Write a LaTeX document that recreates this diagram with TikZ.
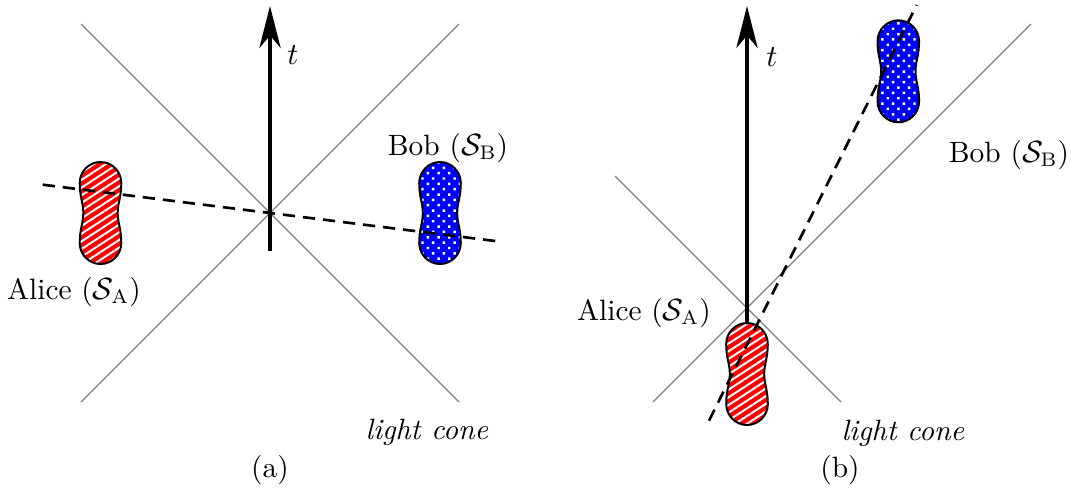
\documentclass[tikz,border=0pt]{standalone}
\usepackage{amsmath,amssymb}
\usetikzlibrary{arrows.meta,patterns.meta}
\definecolor{conec}{gray}{0.5}
\tikzset{
  cone/.style={conec, line width=0.45pt},
  axis/.style={-{Stealth[length=15pt,width=7.6pt,inset=4.5pt]}, line width=1.25pt},
  simul/.style={dash pattern=on 4.4pt off 2.8pt, line width=0.95pt},
  blobA/.style={draw=black, line width=0.7pt, preaction={fill=red},
    pattern={Lines[angle=33,distance=2.3pt,line width=0.7pt]}, pattern color=white},
  blobB/.style={draw=black, line width=0.7pt, preaction={fill=blue},
    pattern={Dots[angle=45,distance=2.7pt,radius=0.62pt]}, pattern color=white},
  lbl/.style={inner sep=0pt, font=\fontsize{10.5}{12.6}\selectfont},
}
% peanut outline around (0,0), in px units
\newcommand{\peanut}{(0,51) .. controls (11.5,51) and (20.8,41.5) .. (20.8,30)
  .. controls (20.8,16) and (17.2,10) .. (17.2,0)
  .. controls (17.2,-10) and (20.8,-16) .. (20.8,-30)
  .. controls (20.8,-41.5) and (11.5,-51) .. (0,-51)
  .. controls (-11.5,-51) and (-20.8,-41.5) .. (-20.8,-30)
  .. controls (-20.8,-16) and (-17.2,-10) .. (-17.2,0)
  .. controls (-17.2,10) and (-20.8,16) .. (-20.8,30)
  .. controls (-20.8,41.5) and (-11.5,51) .. cycle}

\begin{document}
\begin{tikzpicture}[x=0.357pt, y=0.357pt]
  \useasboundingbox (0,0) rectangle (1071,494);
  % (a) spacelike separation
  \coordinate (aNW) at (81,470);  \coordinate (aSE) at (459,92);
  \coordinate (aNE) at (459,470); \coordinate (aSW) at (81,92);
  \coordinate (aT0) at (270,243); \coordinate (aT1) at (270,488);
  \coordinate (aS0) at (42.7,309.3); \coordinate (aS1) at (497.5,252.7);
  \draw[cone] (aNW) -- (aSE);
  \draw[cone] (aNE) -- (aSW);
  \draw[axis] (aT0) -- (aT1);
  \draw[blobA, shift={(100.5,281)}] \peanut;
  \draw[blobB, shift={(440,281)}] \peanut;
  \draw[simul] (aS0) -- (aS1);
  \node[lbl] (ta) at (293,439) {$t$};
  \node[lbl] (boba) at (448,346) {Bob ($\mathcal{S}_\mathrm{B}$)};
  \node[lbl] (alicea) at (74,202) {Alice ($\mathcal{S}_\mathrm{A}$)};
  \node[lbl] (conea) at (427,62) {\textit{light cone}};
  \node[lbl] (capa) at (270,24) {(a)};
  % (b) timelike separation
  \coordinate (bNW) at (615,318);  \coordinate (bSE) at (841,92);
  \coordinate (bNE) at (1031,470); \coordinate (bSW) at (653,92);
  \coordinate (bT0) at (747,148);  \coordinate (bT1) at (747,488);
  \coordinate (bS0) at (709,73.3); \coordinate (bS1) at (916.7,489);
  \draw[cone] (bNW) -- (bSE);
  \draw[cone] (bNE) -- (bSW);
  \draw[axis] (bT0) -- (bT1);
  \draw[blobA, shift={(747,120)}] \peanut;
  \draw[blobB, shift={(898.3,422.7)}] \peanut;
  \draw[simul] (bS0) -- (bS1);
  \node[lbl] (tb) at (772,437) {$t$};
  \node[lbl] (bobb) at (1009,339) {Bob ($\mathcal{S}_\mathrm{B}$)};
  \node[lbl] (aliceb) at (644,181) {Alice ($\mathcal{S}_\mathrm{A}$)};
  \node[lbl] (coneb) at (903,61) {\textit{light cone}};
  \node[lbl] (capb) at (840,24) {(b)};
\end{tikzpicture}
\end{document}
